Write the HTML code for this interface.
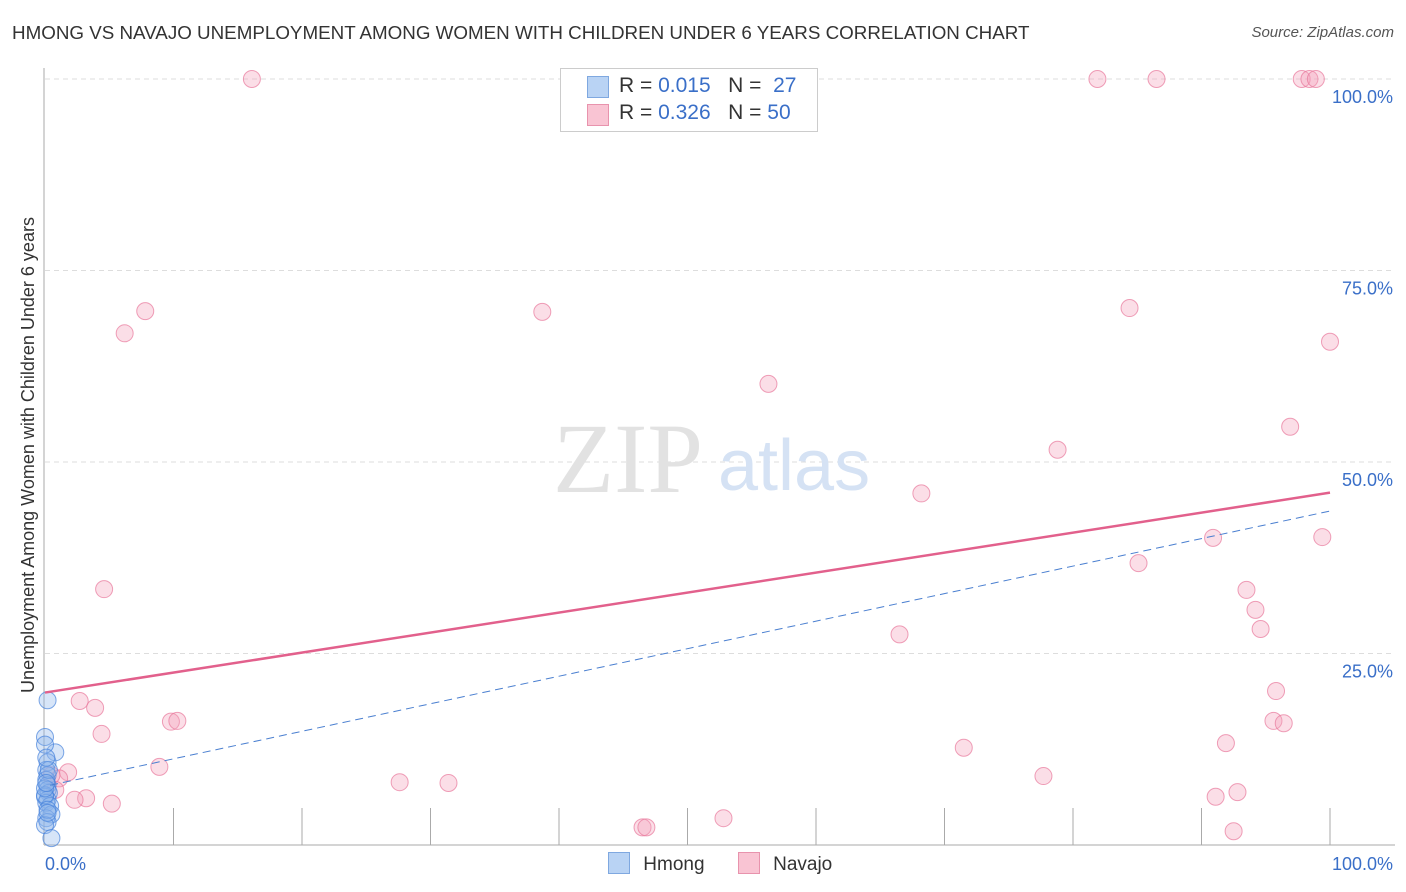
<!DOCTYPE html>
<html><head><meta charset="utf-8"><style>
body{margin:0;background:#fff;font-family:"Liberation Sans",sans-serif;}
#wrap{position:relative;width:1406px;height:892px;overflow:hidden;}
.t{position:absolute;white-space:nowrap;}
</style></head><body>
<div id="wrap">
<div class="t" style="left:12px;top:22px;font-size:18.8px;color:#333;">HMONG VS NAVAJO UNEMPLOYMENT AMONG WOMEN WITH CHILDREN UNDER 6 YEARS CORRELATION CHART</div>
<div class="t" style="right:12px;top:24px;font-size:15px;color:#555;font-style:italic;">Source: ZipAtlas.com</div>
<svg id="svg" width="1406" height="892" style="position:absolute;left:0;top:0"></svg>
</div>
<script>
const hmongX=[0.2,0,0.8,0,0.2,0.1,0.2,0.1,0.2,0.2,0.3,0,0.2,0.1,0.4,0.5,0.1,0.2,0,0.5,0,0.2,0,0.3,0.1,0.2,0.1];
const hmongY=[18.9,14.1,12.1,13.1,10.8,9.8,9.1,8.5,7.8,7.2,6.8,6.3,5.9,5.5,5.1,4.0,3.5,3.0,2.6,0.9,6.5,4.6,7.4,9.8,11.4,4.2,8.1];
const navajoX=[16.1,81.9,86.5,97.8,98.4,98.9,7.8,6.2,38.7,84.4,100,56.3,96.9,78.8,68.2,90.9,99.4,85.1,4.6,93.5,94.2,94.6,66.5,95.8,2.7,3.9,95.6,96.4,9.8,10.3,4.4,91.9,71.5,8.9,77.7,1.8,1.1,0.8,27.6,31.4,3.2,2.3,5.2,92.8,91.1,46.5,46.8,52.8,92.5,0.5];
const navajoY=[100,100,100,100,100,100,69.7,66.8,69.6,70.1,65.7,60.2,54.6,51.6,45.9,40.1,40.2,36.8,33.4,33.3,30.7,28.2,27.5,20.1,18.8,17.9,16.2,15.9,16.1,16.2,14.5,13.3,12.7,10.2,9.0,9.5,8.7,7.2,8.2,8.1,6.1,5.9,5.4,6.9,6.3,2.3,2.3,3.5,1.8,9.1];
const navajoTrend=[19.9,46.0];
const hmongTrend=[7.8,43.6];
const hmongTrendX=[0.4,100];
const yTicks=[25,50,75,100];
const yTickLabels=["25.0%","50.0%","75.0%","100.0%"];
const xTickLabels=["0.0%","100.0%"];
const NS="http://www.w3.org/2000/svg";
const svg=document.getElementById('svg');
const X=v=>45+v*12.85, Y=v=>845-v*7.66;
function mk(tag,attrs,name){const e=document.createElementNS(NS,tag);for(const k in attrs)e.setAttribute(k,attrs[k]);


svg.appendChild(e);return e;}
yTicks.forEach((t,i)=>{
 mk('line',{x1:45,x2:1395,y1:Y(t),y2:Y(t),stroke:'#ddd','stroke-dasharray':'5,4'},'gridline');
 const tx=mk('text',{x:1393,y:Y(t)+24,'text-anchor':'end','font-size':18,fill:'#3a6fc8','font-family':'Liberation Sans'},'y-tick-label');tx.textContent=yTickLabels[i];
});
mk('line',{x1:44,x2:44,y1:68,y2:845,stroke:'#aaa'},'y-axis');
mk('line',{x1:44,x2:1395,y1:845,y2:845,stroke:'#aaa'},'x-axis');
for(let i=1;i<=10;i++)mk('line',{x1:X(i*10),x2:X(i*10),y1:808,y2:845,stroke:'#aaa'},'x-tick');
let t=mk('text',{x:45,y:870,'font-size':18,fill:'#3a6fc8','font-family':'Liberation Sans'},'x-tick-label');t.textContent=xTickLabels[0];
t=mk('text',{x:1393,y:870,'text-anchor':'end','font-size':18,fill:'#3a6fc8','font-family':'Liberation Sans'},'x-tick-label');t.textContent=xTickLabels[1];
t=mk('text',{x:0,y:0,transform:'translate(34,455) rotate(-90)','text-anchor':'middle','font-size':18,fill:'#333','font-family':'Liberation Sans'},'y-axis-title');t.textContent='Unemployment Among Women with Children Under 6 years';
t=mk('text',{x:553,y:492,'font-size':100,fill:'#e2e2e2','font-family':'Liberation Serif'},'watermark-zip');t.textContent='ZIP';
t=mk('text',{x:718,y:490,'font-size':72,fill:'#d5e2f4','font-family':'Liberation Sans'},'watermark-atlas');t.textContent='atlas';
navajoX.forEach((x,i)=>mk('circle',{cx:X(x),cy:Y(navajoY[i]),r:8.5,fill:'rgba(244,160,185,0.35)',stroke:'rgba(232,120,155,0.7)','stroke-width':1},'navajo-point'));
hmongX.forEach((x,i)=>mk('circle',{cx:X(x),cy:Y(hmongY[i]),r:8.5,fill:'rgba(140,180,235,0.35)',stroke:'rgba(70,130,220,0.7)','stroke-width':1},'hmong-point'));
mk('line',{x1:X(0),y1:Y(navajoTrend[0]),x2:X(100),y2:Y(navajoTrend[1]),stroke:'#e2608c','stroke-width':2.5},'navajo-trendline');
mk('line',{x1:X(hmongTrendX[0]),y1:Y(hmongTrend[0]),x2:X(hmongTrendX[1]),y2:Y(hmongTrend[1]),stroke:'#4a7fd0','stroke-width':1,'stroke-dasharray':'8,5'},'hmong-trendline');
</script>
<div style="position:absolute;left:560px;top:68px;width:256px;height:62px;border:1px solid #ccc;background:#fff;font-size:21px;">
 <div style="position:absolute;left:26px;top:7px;width:20px;height:20px;background:#b9d3f4;border:1px solid #7fa8e0;"></div>
 <div class="t" style="left:58px;top:5px;color:#333;">R = <span style="color:#3a6fc8">0.015</span>&nbsp;&nbsp;&nbsp;N = &nbsp;<span style="color:#3a6fc8">27</span></div>
 <div style="position:absolute;left:26px;top:35px;width:20px;height:20px;background:#f9c4d3;border:1px solid #e893ad;"></div>
 <div class="t" style="left:58px;top:32px;color:#333;">R = <span style="color:#3a6fc8">0.326</span>&nbsp;&nbsp;&nbsp;N = <span style="color:#3a6fc8">50</span></div>
</div>
<div style="position:absolute;left:608px;top:852px;font-size:19px;color:#333;">
 <span style="display:inline-block;width:20px;height:20px;background:#b9d3f4;border:1px solid #7fa8e0;vertical-align:-4px;"></span>
 <span style="margin-left:8px">Hmong</span>
 <span style="display:inline-block;width:20px;height:20px;background:#f9c4d3;border:1px solid #e893ad;vertical-align:-4px;margin-left:28px;"></span>
 <span style="margin-left:8px">Navajo</span>
</div>
</body></html>
